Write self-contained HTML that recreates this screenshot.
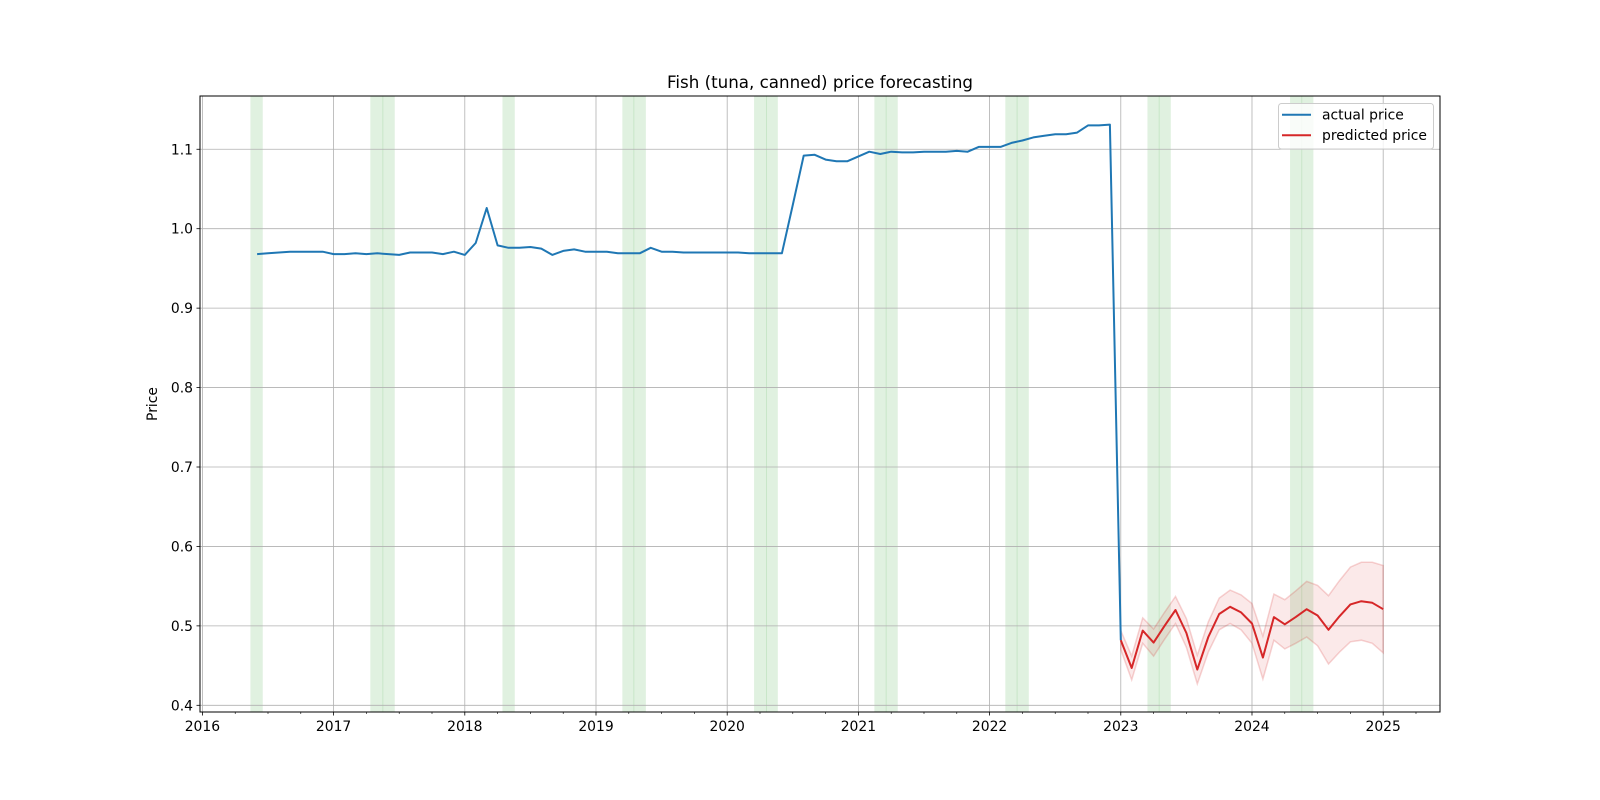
<!DOCTYPE html>
<html><head><meta charset="utf-8">
<style>
html,body{margin:0;padding:0;background:#fff;}
svg{display:block;font-family:"DejaVu Sans","Liberation Sans",sans-serif;}
</style></head>
<body>
<svg id="chart" width="1600" height="800" viewBox="0 0 1600 800" xmlns="http://www.w3.org/2000/svg">
<rect width="1600" height="800" fill="#fff"/>
<g id="spans"></g>
<g id="grid"></g>
<g id="series"></g>
<g id="axes"></g>
<text x="820" y="88" font-size="16.7" text-anchor="middle" fill="#000">Fish (tuna, canned) price forecasting</text>
<text x="0" y="0" font-size="13.9" text-anchor="middle" transform="translate(157,404) rotate(-90)">Price</text>
<g>
<rect x="1278.5" y="103.5" width="155" height="45.5" rx="3" fill="#fff" fill-opacity="0.8" stroke="#ccc"/>
<line x1="1282" y1="114.7" x2="1311" y2="114.7" stroke="#1f77b4" stroke-width="2"/>
<text x="1322" y="119.5" font-size="13.9">actual price</text>
<line x1="1282" y1="135.3" x2="1311" y2="135.3" stroke="#d62728" stroke-width="2"/>
<text x="1322" y="140.2" font-size="13.9">predicted price</text>
</g>
</svg>
<script>
const actualStart = [2016, 6];
const actualValues = [
0.968,0.969,0.970,0.971,0.971,0.971,0.971,
0.968,0.968,0.969,0.968,0.969,0.968,0.967,0.970,0.970,0.970,0.968,0.971,
0.967,0.982,1.026,0.979,0.976,0.976,0.977,0.975,0.967,0.972,0.974,0.971,
0.971,0.971,0.969,0.969,0.969,0.976,0.971,0.971,0.970,0.970,0.970,0.970,
0.970,0.970,0.969,0.969,0.969,0.969,1.030,1.092,1.093,1.087,1.085,1.085,
1.091,1.097,1.094,1.097,1.096,1.096,1.097,1.097,1.097,1.098,1.097,1.103,
1.103,1.103,1.108,1.111,1.115,1.117,1.119,1.119,1.121,1.130,1.130,1.131,
0.482];
const predStart = [2023, 1];
const predValues = [0.482,0.447,0.494,0.479,0.500,0.520,0.491,0.445,0.486,0.515,0.524,0.517,0.503,0.460,0.511,0.502,0.511,0.521,0.513,0.495,0.512,0.527,0.531,0.529,0.521];
const predUpper = [0.494,0.462,0.510,0.496,0.517,0.537,0.509,0.463,0.505,0.535,0.545,0.539,0.528,0.487,0.540,0.533,0.544,0.556,0.551,0.538,0.557,0.574,0.580,0.580,0.576];
const predLower = [0.470,0.432,0.478,0.462,0.483,0.503,0.473,0.427,0.467,0.495,0.503,0.495,0.478,0.433,0.482,0.471,0.478,0.486,0.475,0.452,0.467,0.480,0.482,0.478,0.466];
const spanStarts = [2016.366,2017.280,2017.372,2018.287,2019.201,2019.285,2020.205,2020.296,2021.122,2021.208,2022.120,2022.206,2023.203,2023.289,2024.290,2024.376];
const spanEnds   = [2016.460,2017.379,2017.466,2018.381,2019.292,2019.380,2020.303,2020.386,2021.215,2021.300,2022.213,2022.299,2023.296,2023.381,2024.383,2024.468];
const yTicks = [0.4,0.5,0.6,0.7,0.8,0.9,1.0,1.1];
const xTickYears = [2016,2017,2018,2019,2020,2021,2022,2023,2024,2025];

const L=200,R=1440,T=96,B=712;
const X0=2015.9817, X1=2025.433, Y0=0.39157, Y1=1.16706;
const xs = t => L + (t - X0) / (X1 - X0) * (R - L);
const ys = v => B - (v - Y0) / (Y1 - Y0) * (B - T);
const monthT = (start, i) => start[0] + (start[1] - 1 + i) / 12;
const NS = "http://www.w3.org/2000/svg";
function mk(tag, attrs, parent){const e=document.createElementNS(NS,tag);for(const k in attrs)e.setAttribute(k,attrs[k]);parent.appendChild(e);return e;}

const gs=document.getElementById('spans');
spanStarts.forEach((s,i)=>{
  const r=mk('rect',{x:xs(s),y:T,width:xs(spanEnds[i])-xs(s),height:B-T,fill:'#2ca02c','fill-opacity':0.15},gs);
  
  
});

const gg=document.getElementById('grid');
xTickYears.forEach(y=>{const l=mk('line',{x1:xs(y),x2:xs(y),y1:T,y2:B,stroke:'#b0b0b0','stroke-width':0.8},gg);
  
  });
yTicks.forEach(v=>{const l=mk('line',{x1:L,x2:R,y1:ys(v),y2:ys(v),stroke:'#b0b0b0','stroke-width':0.8},gg);
  
  });

const gsr=document.getElementById('series');
let up='',lo='';
predUpper.forEach((v,i)=>{up+=(i?'L':'M')+xs(monthT(predStart,i)).toFixed(1)+','+ys(v).toFixed(1);});
for(let i=predLower.length-1;i>=0;i--){lo+='L'+xs(monthT(predStart,i)).toFixed(1)+','+ys(predLower[i]).toFixed(1);}
const band=mk('path',{d:up+lo+'Z',fill:'#d62728','fill-opacity':0.1,stroke:'#d62728','stroke-opacity':0.2,'stroke-width':1.5},gsr);


const ap=actualValues.map((v,i)=>xs(monthT(actualStart,i)).toFixed(1)+','+ys(v).toFixed(1)).join(' ');
const al=mk('polyline',{points:ap,fill:'none',stroke:'#1f77b4','stroke-width':2,'stroke-linejoin':'round'},gsr);


const pp=predValues.map((v,i)=>xs(monthT(predStart,i)).toFixed(1)+','+ys(v).toFixed(1)).join(' ');
const pl=mk('polyline',{points:pp,fill:'none',stroke:'#d62728','stroke-width':2,'stroke-linejoin':'round'},gsr);



const ga=document.getElementById('axes');
const frame=mk('rect',{x:L,y:T,width:R-L,height:B-T,fill:'none',stroke:'#000','stroke-width':1},ga);


yTicks.forEach(v=>{
  mk('line',{x1:L-3.5,x2:L,y1:ys(v),y2:ys(v),stroke:'#000','stroke-width':0.8},ga);
  const t=mk('text',{x:L-7,y:ys(v)+5,'font-size':13.9,'text-anchor':'end'},ga);
  t.textContent=v.toFixed(1);
  
  
});
xTickYears.forEach(y=>{
  mk('line',{x1:xs(y),x2:xs(y),y1:B,y2:B+3.5,stroke:'#000','stroke-width':0.8},ga);
  const t=mk('text',{x:xs(y),y:B+19,'font-size':13.9,'text-anchor':'middle'},ga);
  t.textContent=String(y);
  
  
});
for(let q=0;q<38;q++){const t=2016+q/4; if(q%4===0||xs(t)>R)continue;
  mk('line',{x1:xs(t),x2:xs(t),y1:B,y2:B+2,stroke:'#000','stroke-width':0.6},ga);}
</script>
</body></html>
